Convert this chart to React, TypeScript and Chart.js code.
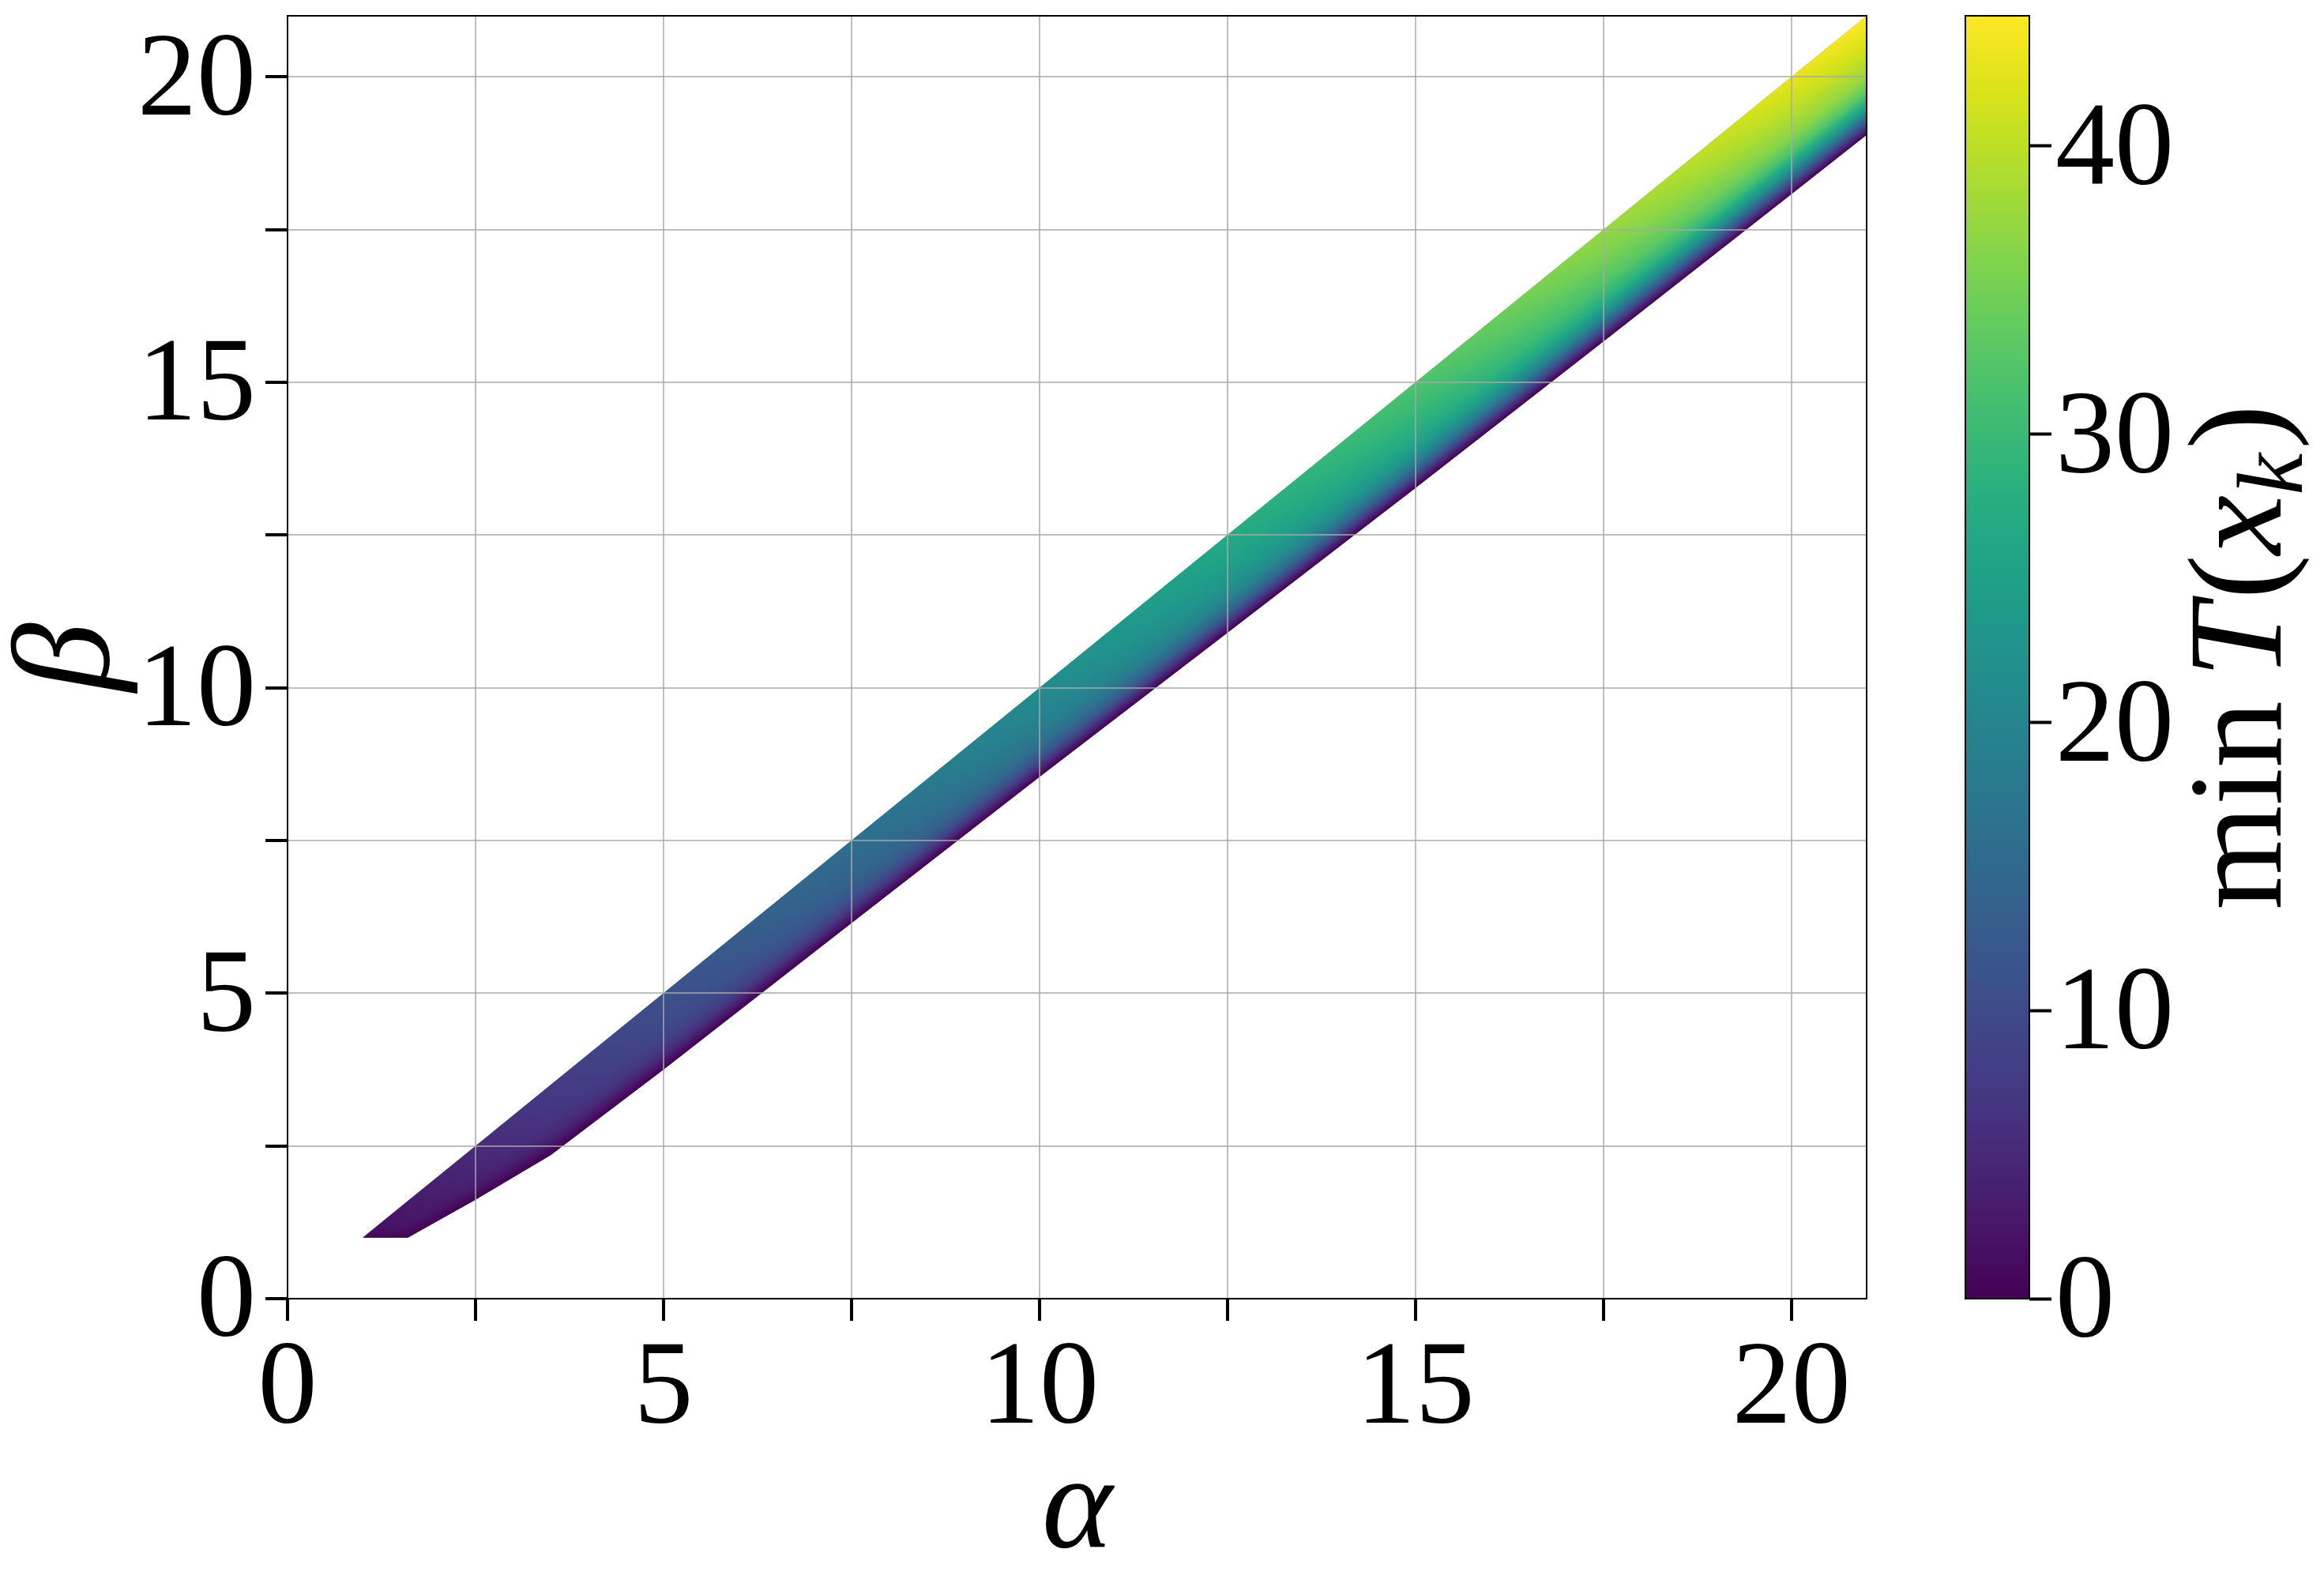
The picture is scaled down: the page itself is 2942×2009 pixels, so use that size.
import React, { useEffect, useRef } from 'react';
import { Chart, registerables } from 'chart.js';

Chart.register(...registerables);

// ---------------- data ----------------
// alpha positions where the band edges / colour profile were read
const alphaPts = [1, 1.6, 2.5, 3.5, 5, 7.5, 10, 12.5, 15, 17.5, 20, 21];
// upper edge of the feasible band (beta)
const upperBeta = [1, 1.6, 2.5, 3.5, 5, 7.5, 10, 12.5, 15, 17.5, 20, 21];
// lower edge of the feasible band (beta)
const lowerBeta = [1, 1.0, 1.62, 2.35, 3.75, 6.15, 8.54, 10.9, 13.27, 15.67, 18.08, 19.05];
// relative position across the band (0 = lower edge, 1 = upper edge)
const bandFractions = [0, 0.05, 0.12, 0.22, 0.35, 0.5, 0.75, 1];
// min T(x_k) read across the band at each alpha
const tAlpha1 = [0, 0.2, 0.45, 0.8, 1.1, 1.3, 1.4, 1.5];
const tAlpha1p6 = [0, 0.3, 0.9, 1.65, 2.2, 2.55, 2.8, 3.0];
const tAlpha2p5 = [0, 0.6, 1.6, 2.9, 3.9, 4.5, 5.0, 5.3];
const tAlpha3p5 = [0, 0.8, 2.3, 4.1, 5.6, 6.4, 7.0, 7.5];
const tAlpha5 = [0, 1.2, 3.3, 6.0, 8.1, 9.4, 10.3, 11.0];
const tAlpha7p5 = [0, 1.8, 4.8, 8.8, 11.8, 13.6, 15.0, 16.0];
const tAlpha10 = [0, 2.4, 6.5, 11.8, 15.9, 18.3, 20.2, 21.5];
const tAlpha12p5 = [0, 3.0, 8.1, 14.9, 20.0, 23.0, 25.4, 27.0];
const tAlpha15 = [0, 3.5, 9.6, 17.6, 23.7, 27.2, 30.1, 32.0];
const tAlpha17p5 = [0, 4.1, 11.3, 20.6, 27.8, 31.9, 35.3, 37.5];
const tAlpha20 = [0, 4.7, 12.9, 23.7, 31.8, 36.6, 40.4, 43.0];
const tAlpha21 = [0, 4.9, 13.4, 24.5, 32.9, 37.8, 41.8, 44.5];
const tRows = [
  tAlpha1, tAlpha1p6, tAlpha2p5, tAlpha3p5, tAlpha5, tAlpha7p5,
  tAlpha10, tAlpha12p5, tAlpha15, tAlpha17p5, tAlpha20, tAlpha21,
];

// axes
const axisMin = 0;
const axisMax = 21;
const axisStep = 2.5;
const xTickValues = [0, 5, 10, 15, 20];
const xTickLabels = ['0', '5', '10', '15', '20'];
const yTickValues = [0, 5, 10, 15, 20];
const yTickLabels = ['0', '5', '10', '15', '20'];
// colorbar
const cbMin = 0;
const cbMax = 44.5;
const cbTickValues = [0, 10, 20, 30, 40];
const cbTickLabels = ['0', '10', '20', '30', '40'];

// ---------------- style ----------------
const VIRIDIS = [
  '#440154', '#48186a', '#472d7b', '#424086', '#3b528b', '#33638d',
  '#2c728e', '#26828e', '#21918c', '#1fa088', '#28ae80', '#3fbc73',
  '#5ec962', '#84d44b', '#addc30', '#d8e219', '#fde725',
];
const VIR_RGB = VIRIDIS.map((h) => [
  parseInt(h.slice(1, 3), 16),
  parseInt(h.slice(3, 5), 16),
  parseInt(h.slice(5, 7), 16),
]);
function viridis(t: number): string {
  const n = VIR_RGB.length;
  const c = Math.max(0, Math.min(1, t));
  const s = c * (n - 1);
  const i = Math.min(n - 2, Math.floor(s));
  const u = s - i;
  const a = VIR_RGB[i];
  const b = VIR_RGB[i + 1];
  const r = Math.round(a[0] + (b[0] - a[0]) * u);
  const g = Math.round(a[1] + (b[1] - a[1]) * u);
  const bl = Math.round(a[2] + (b[2] - a[2]) * u);
  return `rgb(${r},${g},${bl})`;
}

const SERIF = "'Liberation Serif', 'DejaVu Serif', serif";
const TICK_FONT = { family: SERIF, size: 150, lineHeight: 1.2 };
const GRID_COLOR = 'rgba(168,168,168,0.75)';

function labelFor(values: number[], labels: string[], v: number): string {
  for (let i = 0; i < values.length; i++) {
    if (Math.abs(values[i] - v) < 1e-6) return labels[i];
  }
  return '';
}

function lerp(a: number, b: number, t: number) {
  return a + (b - a) * t;
}

// paints the band with min T(x_k) colours, positioned through the chart scales
const bandShading = {
  id: 'bandShading',
  afterDatasetsDraw(chart: any) {
    const { ctx, chartArea } = chart;
    const xs = chart.scales.x;
    const ys = chart.scales.y;
    ctx.save();
    ctx.beginPath();
    ctx.rect(chartArea.left, chartArea.top, chartArea.right - chartArea.left, chartArea.bottom - chartArea.top);
    ctx.clip();
    ctx.beginPath();
    alphaPts.forEach((a, i) => {
      const px = xs.getPixelForValue(a);
      const py = ys.getPixelForValue(lowerBeta[i]);
      if (i === 0) ctx.moveTo(px, py);
      else ctx.lineTo(px, py);
    });
    for (let i = alphaPts.length - 1; i >= 0; i--) {
      ctx.lineTo(xs.getPixelForValue(alphaPts[i]), ys.getPixelForValue(upperBeta[i]));
    }
    ctx.closePath();
    ctx.clip();

    const aFirst = alphaPts[0];
    const aLast = alphaPts[alphaPts.length - 1];
    const x0 = Math.floor(xs.getPixelForValue(aFirst)) - 3;
    const x1 = Math.ceil(xs.getPixelForValue(aLast)) + 2;
    const STEP = 2;
    const K = 48;
    for (let px = x0; px < x1; px += STEP) {
      let a = xs.getValueForPixel(px + STEP / 2);
      a = Math.max(aFirst, Math.min(aLast, a));
      let i = 0;
      while (i < alphaPts.length - 2 && a > alphaPts[i + 1]) i++;
      const t = (a - alphaPts[i]) / (alphaPts[i + 1] - alphaPts[i]);
      const lo = lerp(lowerBeta[i], lowerBeta[i + 1], t);
      const up = lerp(upperBeta[i], upperBeta[i + 1], t);
      const row = bandFractions.map((_, j) => lerp(tRows[i][j], tRows[i + 1][j], t));
      const yl = ys.getPixelForValue(lo);
      const yu = ys.getPixelForValue(up);
      if (Math.abs(yl - yu) < 1) {
        ctx.fillStyle = viridis(row[row.length - 1] / cbMax);
        ctx.fillRect(px, yu - 4, STEP + 0.6, 8);
        continue;
      }
      const g = ctx.createLinearGradient(0, yl, 0, yu);
      for (let k = 0; k <= K; k++) {
        const f = k / K;
        let j = 0;
        while (j < bandFractions.length - 2 && f > bandFractions[j + 1]) j++;
        const u = (f - bandFractions[j]) / (bandFractions[j + 1] - bandFractions[j]);
        const T = lerp(row[j], row[j + 1], u);
        g.addColorStop(f, viridis((T - cbMin) / (cbMax - cbMin)));
      }
      ctx.fillStyle = g;
      ctx.fillRect(px, yu - 4, STEP + 0.6, yl - yu + 8);
    }
    ctx.restore();
  },
};

// top and right spines
const frame = {
  id: 'frame',
  afterDraw(chart: any) {
    const { ctx, chartArea } = chart;
    ctx.save();
    ctx.strokeStyle = '#000';
    ctx.lineWidth = 2;
    ctx.beginPath();
    ctx.moveTo(chartArea.left, chartArea.top);
    ctx.lineTo(chartArea.right, chartArea.top);
    ctx.lineTo(chartArea.right, chartArea.bottom);
    ctx.stroke();
    ctx.restore();
  },
};

// colourbar outline and label "min T(x_k)"
const cbDecor = {
  id: 'cbDecor',
  afterDraw(chart: any) {
    const { ctx, chartArea } = chart;
    ctx.save();
    ctx.strokeStyle = '#000';
    ctx.lineWidth = 2;
    ctx.strokeRect(chartArea.left, chartArea.top, chartArea.right - chartArea.left, chartArea.bottom - chartArea.top);
    ctx.restore();

    const size = 170;
    const normal = `${size}px ${SERIF}`;
    const italic = `italic ${size}px ${SERIF}`;
    const sub = `italic ${Math.round(size * 0.7)}px ${SERIF}`;
    const pieces = [
      { text: 'min', font: normal, dy: 0, gap: size * 0.17 },
      { text: 'T', font: italic, dy: 0, gap: size * 0.03 },
      { text: '(', font: normal, dy: 0, gap: 0 },
      { text: 'x', font: italic, dy: 0, gap: 0 },
      { text: 'k', font: sub, dy: size * 0.16, gap: size * 0.03 },
      { text: ')', font: normal, dy: 0, gap: 0 },
    ];
    ctx.save();
    let total = 0;
    const widths = pieces.map((p) => {
      ctx.font = p.font;
      const w = ctx.measureText(p.text).width;
      total += w + p.gap;
      return w;
    });
    const baseX = chartArea.right + 318;
    const midY = (chartArea.top + chartArea.bottom) / 2;
    ctx.translate(baseX, midY);
    ctx.rotate(-Math.PI / 2);
    ctx.fillStyle = '#000';
    ctx.textBaseline = 'alphabetic';
    ctx.textAlign = 'left';
    let cx = -total / 2;
    pieces.forEach((p, i) => {
      ctx.font = p.font;
      ctx.fillText(p.text, cx, p.dy);
      cx += widths[i] + p.gap;
    });
    ctx.restore();
  },
};

export default function App() {
  const mainRef = useRef<HTMLCanvasElement | null>(null);
  const cbRef = useRef<HTMLCanvasElement | null>(null);

  useEffect(() => {
    const main = new Chart(mainRef.current as HTMLCanvasElement, {
      type: 'line',
      data: {
        datasets: [
          {
            label: 'upper edge',
            data: alphaPts.map((a, i) => ({ x: a, y: upperBeta[i] })),
            borderColor: 'rgba(0,0,0,0)',
            borderWidth: 0,
            pointRadius: 0,
            fill: false,
          },
          {
            label: 'lower edge',
            data: alphaPts.map((a, i) => ({ x: a, y: lowerBeta[i] })),
            borderColor: 'rgba(0,0,0,0)',
            borderWidth: 0,
            pointRadius: 0,
            fill: '-1',
            backgroundColor: VIRIDIS[8],
          },
        ],
      },
      options: {
        animation: false,
        responsive: false,
        events: [],
        layout: { padding: { left: 0, right: 37, top: 20, bottom: 0 } },
        plugins: { legend: { display: false }, tooltip: { enabled: false } },
        scales: {
          x: {
            type: 'linear',
            min: axisMin,
            max: axisMax,
            afterFit: (s: any) => {
              s.height = 365;
              s.paddingLeft = 0;
              s.paddingRight = 0;
            },
            ticks: {
              stepSize: axisStep,
              includeBounds: false,
              autoSkip: false,
              maxRotation: 0,
              minRotation: 0,
              padding: 0,
              color: '#000',
              font: TICK_FONT,
              callback: (v: any) => labelFor(xTickValues, xTickLabels, Number(v)),
            },
            grid: {
              z: 1,
              color: GRID_COLOR,
              lineWidth: 2,
              drawTicks: true,
              tickLength: 28,
              tickColor: '#000',
              tickWidth: 4,
            },
            border: { display: true, color: '#000', width: 2, z: 2 },
            title: {
              display: true,
              text: 'α',
              color: '#000',
              font: { family: SERIF, style: 'italic', size: 170, lineHeight: 1.1 },
              padding: { top: 0, bottom: 2 },
            },
          },
          y: {
            type: 'linear',
            min: axisMin,
            max: axisMax,
            afterFit: (s: any) => {
              s.width = 364;
              s.paddingTop = 0;
              s.paddingBottom = 0;
            },
            ticks: {
              stepSize: axisStep,
              includeBounds: false,
              autoSkip: false,
              padding: 12,
              labelOffset: 8,
              color: '#000',
              font: TICK_FONT,
              callback: (v: any) => labelFor(yTickValues, yTickLabels, Number(v)),
            },
            grid: {
              z: 1,
              color: GRID_COLOR,
              lineWidth: 2,
              drawTicks: true,
              tickLength: 28,
              tickColor: '#000',
              tickWidth: 4,
            },
            border: { display: true, color: '#000', width: 2, z: 2 },
            title: {
              display: true,
              text: 'β',
              color: '#000',
              font: { family: SERIF, style: 'italic', size: 175, lineHeight: 0.9 },
              padding: { top: 12, bottom: 0 },
            },
          },
        },
      } as any,
      plugins: [bandShading, frame],
    });

    const cb = new Chart(cbRef.current as HTMLCanvasElement, {
      type: 'bar',
      data: {
        labels: [''],
        datasets: [
          {
            label: 'min T(x_k)',
            data: [[cbMin, cbMax]] as any,
            borderWidth: 0,
            barPercentage: 1,
            categoryPercentage: 1,
            backgroundColor: (c: any) => {
              const ch = c.chart;
              if (!ch.chartArea) return VIRIDIS[8];
              const ys = ch.scales.y;
              const g = ch.ctx.createLinearGradient(0, ys.getPixelForValue(cbMin), 0, ys.getPixelForValue(cbMax));
              VIRIDIS.forEach((h, k) => g.addColorStop(k / (VIRIDIS.length - 1), h));
              return g;
            },
          },
        ],
      },
      options: {
        animation: false,
        responsive: false,
        events: [],
        layout: { padding: { left: 88, right: 0, top: 20, bottom: 365 } },
        plugins: { legend: { display: false }, tooltip: { enabled: false } },
        scales: {
          x: { display: false },
          y: {
            type: 'linear',
            position: 'right',
            min: cbMin,
            max: cbMax,
            afterFit: (s: any) => {
              s.width = 373;
              s.paddingTop = 0;
              s.paddingBottom = 0;
            },
            ticks: {
              stepSize: 10,
              includeBounds: false,
              autoSkip: false,
              padding: 5,
              labelOffset: 9,
              color: '#000',
              font: TICK_FONT,
              callback: (v: any) => labelFor(cbTickValues, cbTickLabels, Number(v)),
            },
            grid: {
              drawOnChartArea: false,
              drawTicks: true,
              tickLength: 28,
              tickColor: '#000',
              tickWidth: 4,
            },
            border: { display: false },
          },
        },
      } as any,
      plugins: [cbDecor],
    });

    return () => {
      main.destroy();
      cb.destroy();
    };
  }, []);

  return (
    <div style={{ position: 'absolute', left: 0, top: 0, width: 2942, height: 2009, background: '#fff' }}>
      <canvas
        ref={mainRef}
        width={2400}
        height={2009}
        style={{ position: 'absolute', left: 0, top: 0, width: 2400, height: 2009 }}
      />
      <canvas
        ref={cbRef}
        width={542}
        height={2009}
        style={{ position: 'absolute', left: 2400, top: 0, width: 542, height: 2009 }}
      />
    </div>
  );
}
